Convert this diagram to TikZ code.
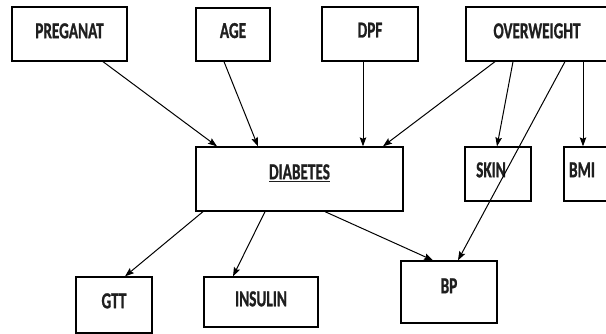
\documentclass[tikz,border=0pt]{standalone}
\usepackage{fontspec}
\setmainfont{Carlito}
\newfontfamily\lblfont{Carlito}[UprightFont={* Bold}, FakeBold=1.2]
\usetikzlibrary{arrows.meta,calc}
\newcommand\tx[1]{\scalebox{0.97}[1.45]{#1}}
\newcommand\ulx[1]{\setbox0\hbox{#1}\rlap{\rule[-2pt]{\wd0}{1.1pt}}\box0}
\tikzset{
  box/.style={draw=black, line width=1.3pt, rectangle, inner sep=0pt,
    font=\lblfont\fontsize{15.7pt}{18pt}\selectfont, text=black!88, text depth=0pt},
  arr/.style={draw=black, line width=1pt, -{Stealth[length=9pt,width=6.5pt,inset=1.5pt]}},
}
\begin{document}
\begin{tikzpicture}[x=1pt,y=-1pt]
\useasboundingbox (0,0) rectangle (606,334);
\fill[white] (0,0) rectangle (606,334);
\node[box, minimum width=115pt, minimum height=54pt, text height=8.5pt] (pre) at (69.5,34) {\tx{PREGANAT}};
\node[box, minimum width=74pt, minimum height=53pt, text height=7pt] (age) at (233,34.5) {\tx{AGE}};
\node[box, minimum width=96pt, minimum height=54pt, text height=7pt] (dpf) at (370,34) {\tx{DPF}};
\node[box, minimum width=142pt, minimum height=54pt, text height=8.5pt] (ovw) at (537,34) {\tx{OVERWEIGHT}};
\node[box, minimum width=207pt, minimum height=64pt, text height=0.5pt] (dia) at (299.5,179) {\tx{\ulx{DIABETES}}};
\node[box, minimum width=66pt, minimum height=54pt, text height=6.5pt] (skin) at (498,174) {\hspace*{-14pt}\tx{SKIN}};
\node[box, minimum width=48pt, minimum height=54pt, text height=6.5pt] (bmi) at (588,174) {\hspace*{-12pt}\tx{BMI}};
\node[box, minimum width=76pt, minimum height=56pt, text height=6.5pt] (gtt) at (114,305) {\tx{GTT}};
\node[box, minimum width=114pt, minimum height=50pt, text height=8.5pt] (ins) at (261,302) {\tx{INSULIN}};
\node[box, minimum width=96pt, minimum height=62pt, text height=2.5pt] (bp) at (449,292) {\tx{BP}};
\draw[arr] ([xshift=33.5pt]pre.south) -- ([xshift=-82.5pt]dia.north);
\draw[arr] ([xshift=-9pt]age.south) -- ([xshift=-41.5pt]dia.north);
\draw[arr] ([xshift=-7pt]dpf.south) -- ([xshift=63.5pt]dia.north);
\draw[arr] ([xshift=-42pt]ovw.south) -- ([xshift=83.5pt]dia.north);
\draw[arr] ([xshift=-24pt]ovw.south) -- ([xshift=-1pt]skin.north);
\draw[arr] ([xshift=28pt]ovw.south) -- ([xshift=9pt]bp.north);
\draw[arr] ([xshift=46pt]ovw.south) -- ([xshift=-5pt]bmi.north);
\draw[arr] ([xshift=-96.5pt]dia.south) -- ([xshift=11pt]gtt.north);
\draw[arr] ([xshift=-34.5pt]dia.south) -- ([xshift=-28pt]ins.north);
\draw[arr] ([xshift=25.5pt]dia.south) -- ([xshift=-16pt]bp.north);
\end{tikzpicture}
\end{document}
